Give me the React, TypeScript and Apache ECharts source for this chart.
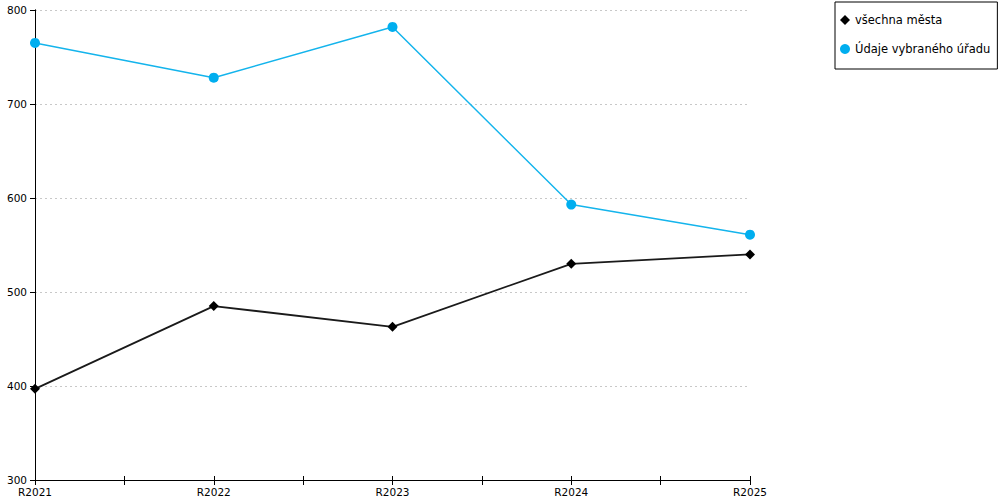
import React, { useEffect, useRef } from "react";
import * as echarts from "echarts";

const categories = ["R2021", "R2022", "R2023", "R2024", "R2025"];
const seriesNames = ["všechna města", "Údaje vybraného úřadu"];
const allCities = [397, 485, 463, 530, 540];
const selectedOffice = [765, 728, 782, 593, 561];
const yTicks = [300, 400, 500, 600, 700, 800];

const FONT = "DejaVu Sans";

export default function App() {
  const ref = useRef<HTMLDivElement>(null);
  useEffect(() => {
    if (!ref.current) return;
    const chart = echarts.init(ref.current, undefined, { renderer: "svg" });
    const toPts = (arr: number[]) => arr.map((v, i) => [i, v]);
    const xBase = {
      type: "value",
      min: 0,
      max: categories.length - 1,
      interval: 0.5,
      position: "bottom",
      splitLine: { show: false },
    };
    chart.setOption({
      animation: false,
      textStyle: { fontFamily: FONT },
      grid: { left: 35, right: 250, top: 10, bottom: 20, containLabel: false },
      legend: {
        orient: "vertical",
        left: 835,
        top: 2,
        padding: [12, 7, 14, 5],
        itemGap: 17,
        itemWidth: 10,
        itemHeight: 10,
        borderColor: "#000",
        borderWidth: 1,
        textStyle: { fontFamily: FONT, fontSize: 11.5, color: "#000" },
        data: [
          { name: seriesNames[0], icon: "diamond" },
          { name: seriesNames[1], icon: "circle" },
        ],
      },
      xAxis: [
        {
          ...xBase,
          axisLine: { show: true, lineStyle: { color: "#000", width: 1 } },
          axisTick: { show: true, inside: false, length: 5, lineStyle: { color: "#000" } },
          axisLabel: {
            show: true,
            fontFamily: FONT,
            fontSize: 10.5,
            color: "#000",
            margin: 6,
            showMinLabel: true,
            showMaxLabel: true,
            formatter: (v: number) => (Number.isInteger(v) ? categories[v] : ""),
          },
        },
        {
          ...xBase,
          axisLine: { show: false },
          axisTick: { show: true, inside: true, length: 4, lineStyle: { color: "#000" } },
          axisLabel: { show: false },
        },
      ],
      yAxis: [
        {
          type: "value",
          min: yTicks[0],
          max: yTicks[yTicks.length - 1],
          interval: 100,
          axisLine: { show: true, lineStyle: { color: "#000", width: 1 } },
          axisTick: { show: true, inside: false, length: 5, lineStyle: { color: "#000" } },
          axisLabel: { fontFamily: FONT, fontSize: 10.5, color: "#000", margin: 8 },
          splitLine: { show: true, lineStyle: { color: "#c8c8c8", type: [2, 3], width: 1 } },
        },
        {
          type: "value",
          position: "right",
          min: yTicks[0],
          max: yTicks[yTicks.length - 1],
          interval: 100,
          axisLine: { show: true, lineStyle: { color: "#000", width: 1 } },
          axisTick: { show: false },
          axisLabel: { show: false },
          splitLine: { show: false },
        },
      ],
      series: [
        {
          name: seriesNames[0],
          type: "line",
          data: toPts(allCities),
          symbol: "diamond",
          symbolSize: 10,
          lineStyle: { color: "#1a1a1a", width: 1.8 },
          itemStyle: { color: "#000" },
          z: 3,
        },
        {
          name: seriesNames[1],
          type: "line",
          data: toPts(selectedOffice),
          symbol: "circle",
          symbolSize: 10,
          lineStyle: { color: "#14b4ec", width: 1.5 },
          itemStyle: { color: "#00aeef" },
          z: 3,
        },
      ],
    });
    return () => chart.dispose();
  }, []);
  return (
    <div
      ref={ref}
      style={{ position: "absolute", left: 0, top: 0, width: 1000, height: 500 }}
    />
  );
}
